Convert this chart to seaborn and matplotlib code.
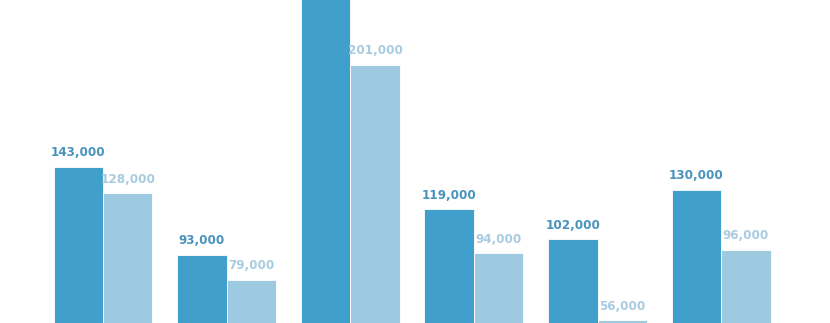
import matplotlib
matplotlib.use("Agg")
import matplotlib.pyplot as plt
import seaborn as sns
import pandas as pd

categories = ["A", "B", "C", "D", "E", "F"]
series_names = ["Series 1", "Series 2"]
series1 = [143000, 93000, 250000, 119000, 102000, 130000]
series2 = [128000, 79000, 201000, 94000, 56000, 96000]

colors = ["#419fcb", "#9ecae1"]
label_colors = ["#4793bd", "#a8cbe0"]

rows = []
for c, v1, v2 in zip(categories, series1, series2):
    rows.append({"cat": c, "series": series_names[0], "value": v1})
    rows.append({"cat": c, "series": series_names[1], "value": v2})
df = pd.DataFrame(rows)

sns.set_style("white")
plt.rcParams["font.family"] = ["DejaVu Sans"]

fig = plt.figure(figsize=(8.3, 3.23), dpi=100)
ax = fig.add_axes([0, 0, 1, 1])
sns.barplot(data=df, x="cat", y="value", hue="series", order=categories,
            hue_order=series_names, palette=colors, width=0.8, ax=ax,
            legend=False, edgecolor="white", linewidth=0.6, errorbar=None,
            saturation=1)

for cont, lc in zip(ax.containers, label_colors):
    labels = [f"{int(b.get_height()):,}" for b in cont]
    ax.bar_label(cont, labels=labels, padding=5.5, color=lc, fontsize=9.5,
                 fontweight="bold", fontstretch="condensed")

ax.set_ylim(54400, 237900)
ax.set_xlim(-0.833, 5.88)
ax.axis("off")
fig.savefig("out.png", dpi=100)
